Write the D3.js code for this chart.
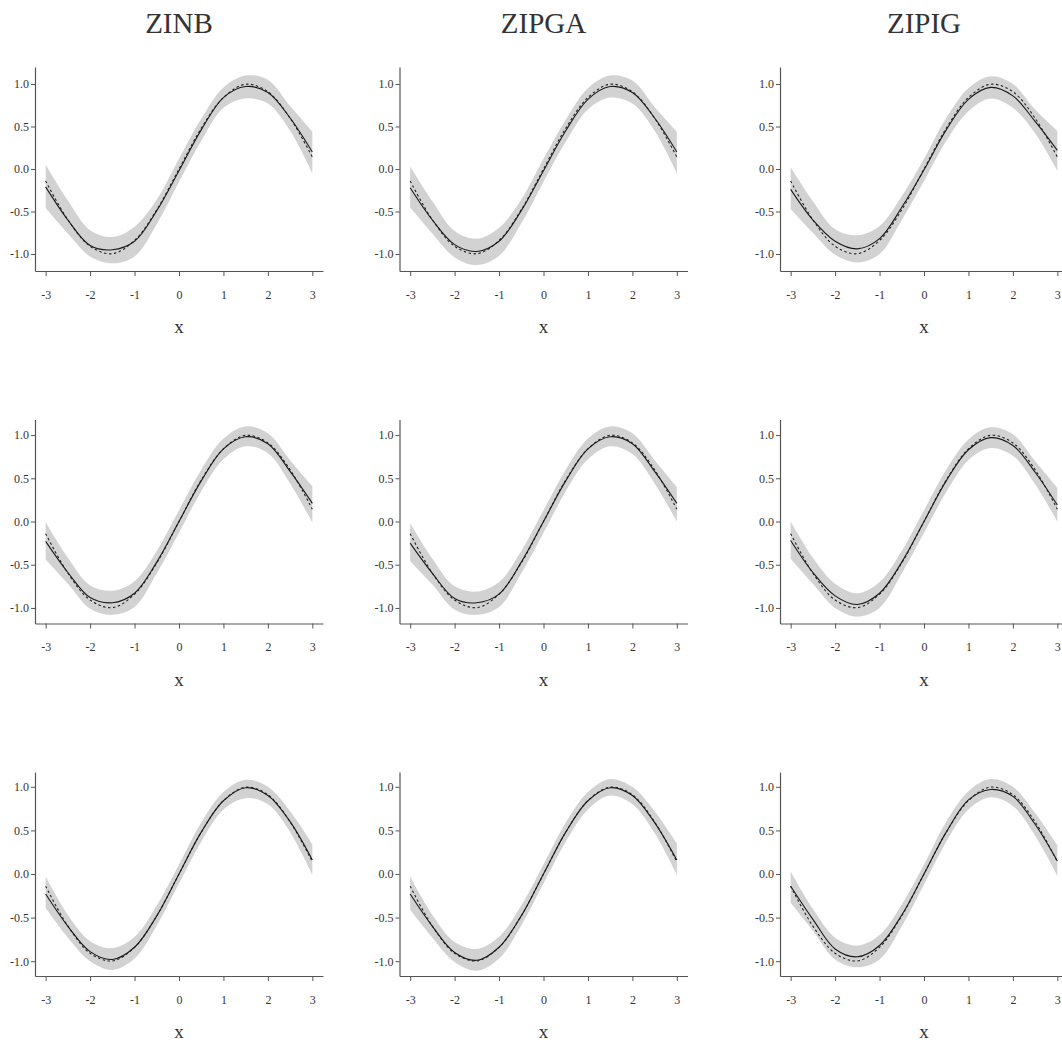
<!DOCTYPE html>
<html>
<head>
<meta charset="utf-8">
<script src="https://cdn.jsdelivr.net/npm/d3@7"></script>
<style>
  html, body { margin: 0; padding: 0; background: #fff; }
  svg { display: block; }
  text { font-family: "Liberation Serif", "Times New Roman", serif; }
</style>
</head>
<body>
<svg id="chart" width="1062" height="1044"></svg>
<script>
// Evaluation grid for the smooth term f(x)
const xGrid = [-3, -2.5, -2, -1.5, -1, -0.5, 0, 0.5, 1, 1.5, 2, 2.5, 3];

// True function on the grid (dashed line)
const trueCurve = [-0.141, -0.598, -0.909, -0.997, -0.841, -0.479, 0, 0.479, 0.841, 0.997, 0.909, 0.598, 0.141];

// Model names (columns)
const models = ["ZINB", "ZIPGA", "ZIPIG"];

// Axis ticks
const xTicks = [-3, -2, -1, 0, 1, 2, 3];
const yTicks = [-1, -0.5, 0, 0.5, 1];
const xLabel = "x";

// Estimated curves, one row per simulation setting
const fitZINB = [
  [-0.21, -0.60, -0.90, -0.95, -0.85, -0.49, -0.02, 0.46, 0.84, 0.97, 0.90, 0.60, 0.20],
  [-0.23, -0.59, -0.88, -0.94, -0.83, -0.47, 0.00, 0.47, 0.84, 0.98, 0.90, 0.58, 0.21],
  [-0.23, -0.60, -0.89, -0.98, -0.84, -0.48, 0.00, 0.48, 0.84, 0.99, 0.90, 0.60, 0.16]
];
const lowerZINB = [
  [-0.46, -0.76, -1.03, -1.11, -1.03, -0.65, -0.15, 0.33, 0.72, 0.83, 0.77, 0.45, -0.05],
  [-0.44, -0.72, -1.01, -1.08, -0.99, -0.60, -0.13, 0.35, 0.72, 0.87, 0.79, 0.44, -0.01],
  [-0.39, -0.73, -1.00, -1.10, -0.97, -0.59, -0.11, 0.37, 0.74, 0.87, 0.80, 0.48, -0.01]
];
const upperZINB = [
  [0.05, -0.37, -0.72, -0.80, -0.68, -0.36, 0.12, 0.59, 0.96, 1.10, 1.05, 0.74, 0.44],
  [-0.01, -0.42, -0.74, -0.80, -0.69, -0.34, 0.13, 0.60, 0.96, 1.10, 1.02, 0.71, 0.41],
  [-0.03, -0.47, -0.77, -0.85, -0.72, -0.36, 0.11, 0.59, 0.94, 1.08, 1.00, 0.72, 0.34]
];

const fitZIPGA = [
  [-0.22, -0.60, -0.89, -0.97, -0.85, -0.49, -0.02, 0.45, 0.82, 0.97, 0.90, 0.60, 0.20],
  [-0.25, -0.60, -0.89, -0.94, -0.84, -0.47, 0.00, 0.47, 0.84, 0.98, 0.90, 0.58, 0.21],
  [-0.23, -0.60, -0.90, -0.99, -0.84, -0.48, 0.00, 0.48, 0.84, 0.99, 0.90, 0.59, 0.16]
];
const lowerZIPGA = [
  [-0.45, -0.76, -1.04, -1.13, -1.02, -0.64, -0.15, 0.32, 0.70, 0.84, 0.77, 0.45, -0.05],
  [-0.46, -0.73, -1.02, -1.08, -0.99, -0.60, -0.13, 0.35, 0.72, 0.87, 0.78, 0.44, 0.00],
  [-0.41, -0.73, -1.01, -1.11, -0.97, -0.59, -0.11, 0.37, 0.74, 0.90, 0.80, 0.47, -0.01]
];
const upperZIPGA = [
  [0.03, -0.38, -0.73, -0.82, -0.69, -0.36, 0.12, 0.58, 0.95, 1.10, 1.04, 0.73, 0.44],
  [-0.02, -0.43, -0.75, -0.81, -0.70, -0.34, 0.13, 0.60, 0.96, 1.10, 1.02, 0.71, 0.40],
  [-0.03, -0.47, -0.78, -0.86, -0.72, -0.36, 0.11, 0.59, 0.94, 1.09, 1.00, 0.72, 0.35]
];

const fitZIPIG = [
  [-0.24, -0.60, -0.85, -0.94, -0.82, -0.45, -0.01, 0.46, 0.82, 0.96, 0.86, 0.56, 0.22],
  [-0.22, -0.59, -0.86, -0.96, -0.83, -0.47, 0.00, 0.47, 0.83, 0.97, 0.88, 0.57, 0.19],
  [-0.14, -0.52, -0.86, -0.95, -0.82, -0.47, 0.00, 0.48, 0.85, 0.97, 0.89, 0.57, 0.15]
];
const lowerZIPIG = [
  [-0.47, -0.75, -1.01, -1.10, -1.00, -0.60, -0.14, 0.33, 0.68, 0.83, 0.72, 0.42, -0.02],
  [-0.43, -0.72, -1.00, -1.10, -1.00, -0.60, -0.13, 0.34, 0.71, 0.85, 0.76, 0.43, 0.00],
  [-0.33, -0.65, -0.98, -1.07, -0.98, -0.60, -0.12, 0.37, 0.74, 0.88, 0.78, 0.44, -0.02]
];
const upperZIPIG = [
  [0.02, -0.38, -0.71, -0.78, -0.67, -0.32, 0.12, 0.60, 0.95, 1.09, 1.00, 0.70, 0.45],
  [0.00, -0.42, -0.72, -0.83, -0.70, -0.34, 0.13, 0.60, 0.95, 1.09, 1.01, 0.70, 0.39],
  [0.03, -0.40, -0.73, -0.82, -0.70, -0.35, 0.11, 0.60, 0.95, 1.09, 1.00, 0.70, 0.33]
];

const fits = [fitZINB, fitZIPGA, fitZIPIG];
const lowers = [lowerZINB, lowerZIPGA, lowerZIPIG];
const uppers = [upperZINB, upperZIPGA, upperZIPIG];

// ---- layout ----
const colLeft = [35, 399.5, 780];
const rowTop = [67, 419.5, 772];
const rowYLim = [1.2, 1.18, 1.17];
const panelW = 288, panelH = 204;

const svg = d3.select("#chart");

const axisColor = "#555";
const textColor = "#333";

models.forEach((m, c) => {
  const cx = colLeft[c] + panelW / 2;
  svg.append("text")
    .attr("x", cx).attr("y", 33)
    .attr("text-anchor", "middle")
    .attr("font-size", 29)
    .attr("fill", textColor)
    .text(m);

  for (let r = 0; r < 3; r++) {
    const g = svg.append("g").attr("transform", `translate(${colLeft[c]},${rowTop[r]})`);
    const x = d3.scaleLinear().domain([-3.24, 3.24]).range([0, panelW]);
    const y = d3.scaleLinear().domain([-rowYLim[r], rowYLim[r]]).range([panelH, 0]);

    const rows = xGrid.map((xv, i) => ({
      x: xv,
      fit: fits[c][r][i],
      lo: lowers[c][r][i],
      hi: uppers[c][r][i],
      truth: trueCurve[i]
    }));

    const curve = d3.curveCatmullRom.alpha(0.5);

    // confidence band
    g.append("path")
      .datum(rows)
      .attr("fill", "#d2d2d2")
      .attr("d", d3.area().curve(curve)
        .x(d => x(d.x)).y0(d => y(d.lo)).y1(d => y(d.hi)));

    // true function
    g.append("path")
      .datum(rows)
      .attr("fill", "none")
      .attr("stroke", "#222")
      .attr("stroke-width", 1.1)
      .attr("stroke-dasharray", "2.5,2.5")
      .attr("d", d3.line().curve(curve).x(d => x(d.x)).y(d => y(d.truth)));

    // estimate
    g.append("path")
      .datum(rows)
      .attr("fill", "none")
      .attr("stroke", "#1a1a1a")
      .attr("stroke-width", 1.1)
      .attr("d", d3.line().curve(curve).x(d => x(d.x)).y(d => y(d.fit)));

    const gx = g.append("g")
      .attr("transform", `translate(0,${panelH})`)
      .call(d3.axisBottom(x).tickValues(xTicks).tickSize(5).tickSizeOuter(0)
        .tickPadding(14).tickFormat(d => String(d)));
    const gy = g.append("g")
      .call(d3.axisLeft(y).tickValues(yTicks).tickSize(4).tickSizeOuter(0)
        .tickPadding(2).tickFormat(d => d.toFixed(1)));

    [gx, gy].forEach(a => {
      a.select(".domain").attr("stroke", axisColor).attr("stroke-width", 1.2);
      a.selectAll(".tick line").attr("stroke", axisColor);
      a.selectAll(".tick text")
        .attr("fill", textColor)
        .attr("font-size", 12)
        .attr("font-family", "'Liberation Serif', serif");
    });

    g.append("text")
      .attr("x", panelW / 2).attr("y", panelH + 62)
      .attr("text-anchor", "middle")
      .attr("font-size", 19)
      .attr("fill", textColor)
      .text(xLabel);
  }
});
</script>
</body>
</html>
